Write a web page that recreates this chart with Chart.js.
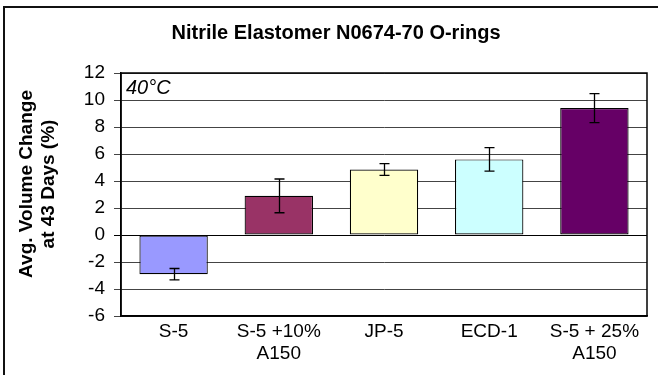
<!DOCTYPE html>
<html>
<head>
<meta charset="utf-8">
<script src="https://cdn.jsdelivr.net/npm/chart.js@4"></script>
<style>
  html, body { margin:0; padding:0; background:#fff; }
  #wrap { width:658px; height:375px; position:relative; }
</style>
</head>
<body>
<div id="wrap"><canvas id="chart" width="658" height="375"></canvas></div>
<script>
// ---------- DATA ----------
const LABELS = [["S-5"], ["S-5 +10%", "A150"], ["JP-5"], ["ECD-1"], ["S-5 + 25%", "A150"]];
const VALUES = [-2.9, 2.9, 4.85, 5.6, 9.4];
const ERRORS = [0.42, 1.25, 0.43, 0.87, 1.07];
const COLORS = ["#9999FF", "#993366", "#FFFFCC", "#CCFFFF", "#660066"];
const Y_MIN = -6, Y_MAX = 12, Y_STEP = 2;

const FONT = "Arial, 'Liberation Sans', sans-serif";

// ---------- PLUGINS ----------
const errorBars = {
  id: "errorBars",
  afterDatasetsDraw(chart) {
    const ctx = chart.ctx;
    const y = chart.scales.y;
    const meta = chart.getDatasetMeta(0);
    ctx.save();
    ctx.strokeStyle = "#000";
    ctx.lineWidth = 1.3;
    meta.data.forEach((bar, i) => {
      const x = Math.round(bar.x) + 0.5;
      const hi = y.getPixelForValue(VALUES[i] + ERRORS[i]);
      const lo = y.getPixelForValue(VALUES[i] - ERRORS[i]);
      ctx.beginPath();
      ctx.moveTo(x, hi); ctx.lineTo(x, lo);
      ctx.moveTo(x - 5, hi); ctx.lineTo(x + 5, hi);
      ctx.moveTo(x - 5, lo); ctx.lineTo(x + 5, lo);
      ctx.stroke();
    });
    ctx.restore();
  }
};

const decorations = {
  id: "decorations",
  afterDraw(chart) {
    const ctx = chart.ctx;
    const area = chart.chartArea;
    ctx.save();
    // outer frame (top + left visible)
    ctx.strokeStyle = "#111";
    ctx.lineWidth = 2;
    ctx.strokeRect(4, 7, 700, 400);
    // title
    ctx.fillStyle = "#000";
    ctx.textAlign = "center";
    ctx.textBaseline = "middle";
    ctx.font = "bold 20px " + FONT;
    ctx.fillText("Nitrile Elastomer N0674-70 O-rings", 336, 33);
    // y title
    ctx.save();
    ctx.translate(27, 184);
    ctx.rotate(-Math.PI / 2);
    ctx.font = "bold 19px " + FONT;
    ctx.fillText("Avg. Volume Change", 0, 0);
    ctx.fillText("at 43 Days (%)", 0, 22);
    ctx.restore();
    // temperature note
    ctx.textAlign = "left";
    ctx.textBaseline = "alphabetic";
    ctx.font = "italic 20px " + FONT;
    ctx.fillText("40\u00B0C", area.left + 5, 94);
    ctx.restore();
  }
};

// ---------- CHART ----------
new Chart(document.getElementById("chart"), {
  type: "bar",
  data: {
    labels: LABELS,
    datasets: [{
      data: VALUES,
      backgroundColor: COLORS,
      borderColor: "#000",
      borderWidth: 1.2,
      borderSkipped: false,
      categoryPercentage: 1,
      barPercentage: 0.65
    }]
  },
  options: {
    responsive: false,
    animation: false,
    devicePixelRatio: 1,
    layout: { padding: { left: 0, top: 73, right: 11, bottom: 0 } },
    plugins: { legend: { display: false }, title: { display: false }, tooltip: { enabled: false } },
    scales: {
      x: {
        grid: { display: false, drawTicks: false, tickLength: 0 },
        border: { display: true, color: "#000", width: 1.5 },
        ticks: { color: "#000", font: { family: FONT, size: 19 }, padding: 4, maxRotation: 0, autoSkip: false },
        afterFit(s) { s.height = 59; }
      },
      y: {
        min: Y_MIN, max: Y_MAX,
        grid: {
          color: c => c.tick.value === 0 ? "#000" : "#444",
          lineWidth: 1,
          tickLength: 7,
          drawTicks: true
        },
        border: { display: true, color: "#000", width: 1.5 },
        ticks: { stepSize: Y_STEP, color: "#000", font: { family: FONT, size: 19 }, padding: 9 },
        afterFit(s) { s.width = 121; }
      }
    }
  },
  plugins: [errorBars, decorations, {
    id: "plotFrame",
    afterDatasetsDraw(chart) {
      const a = chart.chartArea, ctx = chart.ctx;
      ctx.save();
      ctx.strokeStyle = "#000";
      ctx.lineWidth = 1.5;
      ctx.strokeRect(a.left, a.top, a.right - a.left, a.bottom - a.top);
      ctx.restore();
    }
  }]
});
</script>
</body>
</html>
